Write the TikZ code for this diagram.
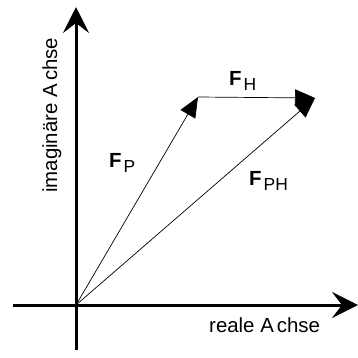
\documentclass[tikz,border=0pt]{standalone}
\usepackage{fontspec}
\setmainfont{Liberation Sans}
\usetikzlibrary{arrows.meta}
\begin{document}
\begin{tikzpicture}[x=1bp,y=-1bp,
  axis/.style={line width=3bp,-{Stealth[length=26bp,width=26bp,inset=10bp]}},
  vec/.style={line width=0.7bp,-{Triangle[length=20bp,width=17bp]}},
  lbl/.style={inner sep=0pt,anchor=base west,font=\fontsize{20.5}{23}\selectfont},
]
\useasboundingbox (0,0) rectangle (358,358);
\coordinate (O) at (76,305);
\coordinate (ybot) at (76,350);
\coordinate (ytop) at (76,7);
\coordinate (xleft) at (13,305);
\coordinate (xright) at (358,305);
\coordinate (P) at (198,97);
\coordinate (H) at (315,98);
\draw[axis] (ybot) -- (ytop);
\draw[axis] (xleft) -- (xright);
\draw[vec] (O) -- (P);
\draw[vec] (P) -- (H);
\draw[vec] (O) -- (H);
\node[lbl] (lp) at (109,167) {\textbf{F}\kern2bp{\fontsize{17.5}{19}\selectfont\raisebox{-5bp}{P}}};
\node[lbl] (lh) at (229,85) {\textbf{F}\kern2bp{\fontsize{17.5}{19}\selectfont\raisebox{-5bp}{H}}};
\node[lbl] (lph) at (249,185) {\textbf{F}\kern2bp{\fontsize{17.5}{19}\selectfont\raisebox{-5bp}{PH}}};
\node[lbl] (lx) at (209,332) {reale A\kern3bp chse};
\node[lbl,rotate=90] (ly) at (57,193) {imaginäre A\kern3bp chse};
\end{tikzpicture}
\end{document}
